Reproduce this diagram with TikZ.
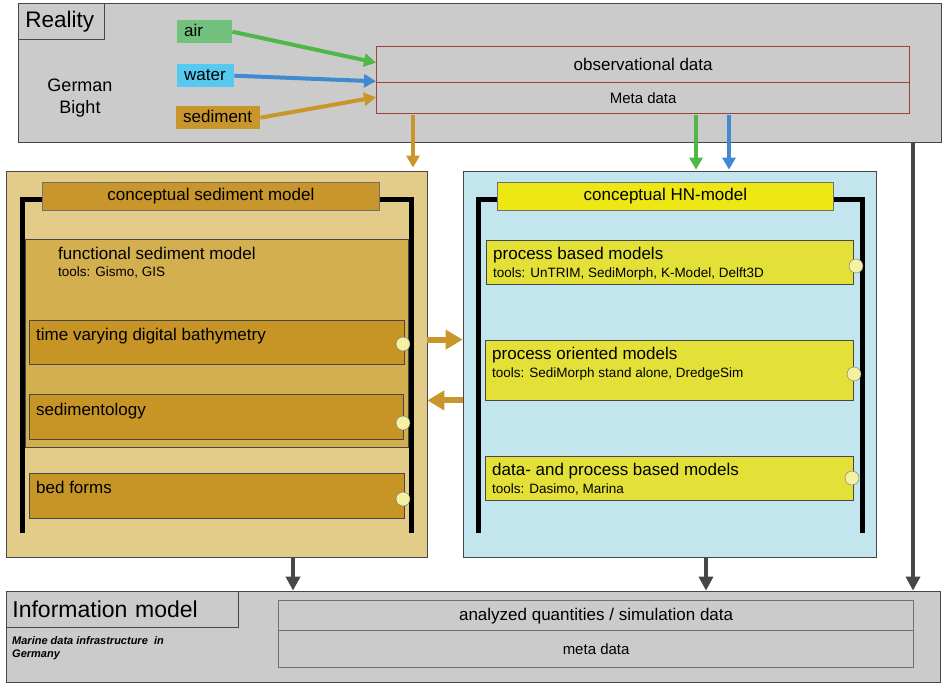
\documentclass[tikz,border=0pt]{standalone}
\usepackage{fontspec}
\setmainfont{Liberation Sans}
\usetikzlibrary{arrows.meta,fit,positioning}

\definecolor{realgray}{HTML}{CBCBCB}
\definecolor{edgegray}{HTML}{474747}
\definecolor{softgray}{HTML}{707070}
\definecolor{obsred}{HTML}{A0403A}
\definecolor{airgreen}{HTML}{72C27D}
\definecolor{arrowgreen}{HTML}{4DB848}
\definecolor{waterblue}{HTML}{55C9EF}
\definecolor{arrowblue}{HTML}{4189D0}
\definecolor{sedgold}{HTML}{C8962A}
\definecolor{sedlight}{HTML}{E3CB89}
\definecolor{sedmid}{HTML}{D4AF4F}
\definecolor{seddark}{HTML}{C69525}
\definecolor{hnblue}{HTML}{C3E6EE}
\definecolor{hnyellow}{HTML}{EDE813}
\definecolor{hnfill}{HTML}{E3E137}
\definecolor{dotyellow}{HTML}{F5F1A3}

\newcommand{\txthuge}{\fontsize{22.5}{26}\selectfont}
\newcommand{\txtbig}{\fontsize{17}{22}\selectfont}
\newcommand{\txtmid}{\fontsize{15}{18}\selectfont}
\newcommand{\txtsmall}{\fontsize{13.5}{16}\selectfont}
\newcommand{\txttiny}{\fontsize{11}{13}\selectfont}

\tikzset{
  box/.style={draw=edgegray, line width=0.8pt, inner sep=0pt},
  bar/.style={anchor=north west, inner sep=0pt, line width=0.8pt},
  tag/.style={anchor=north west, inner xsep=7pt, inner ysep=0pt, minimum height=23pt,
    align=left, font=\txtbig, text height=13pt, text depth=3pt},
  flow/.style={line width=4pt, -{Triangle[length=12pt,width=13pt]}},
  side/.style={line width=6pt, sedgold, -{Triangle[length=17pt,width=19pt]}},
  down/.style={line width=4.5pt, edgegray, -{Triangle[length=14pt,width=14pt]}},
  bracket/.style={line width=5pt, black},
  dot/.style={circle, draw=softgray, fill=dotyellow, minimum size=14pt, inner sep=0pt},
  txt/.style={anchor=base west, inner sep=0pt}
}

\begin{document}
\begin{tikzpicture}[x=1pt,y=-1pt]
\useasboundingbox (0,0) rectangle (944,683);

% Reality
\node[box, fill=realgray, fit={(18,3) (941,142)}] (reality) {};
\node[box, fill=realgray, anchor=north west, minimum width=86pt, minimum height=36pt,
  text width=72pt, inner xsep=7pt, align=left, font=\txthuge] (realitylbl) at (18,3) {Reality};
\node[font=\fontsize{18}{22}\selectfont, align=center] (bight) at (80,98) {German\\Bight};

% Inputs
\node[tag, fill=airgreen, text width=41pt] (air) at (177,20) {air};
\node[tag, fill=waterblue, text width=43pt] (water) at (177,64) {water};
\node[tag, fill=sedgold, text width=70pt] (sediment) at (176,106) {sediment};

% Observations
\node[bar, draw=obsred, line width=1.3pt, fill=realgray, minimum width=533pt, minimum height=36pt,
  font=\txtbig] (obsup) at (376,46) {observational data};
\node[bar, draw=obsred, line width=1.3pt, fill=realgray, minimum width=533pt, minimum height=31pt,
  font=\txtmid] (obsmeta) at (376,82) {Meta data};

\draw[flow, arrowgreen] (air.east) -- ([yshift=2pt]obsup.west);
\draw[flow, arrowblue] (water.east) -- ([yshift=2pt]obsup.south west);
\draw[flow, sedgold] (sediment.east) -- ([yshift=1pt]obsmeta.west);

% Sediment model
\node[box, fill=sedlight, fit={(6,171) (427,557)}] (sedbox) {};
\node[box, fill=sedmid, fit={(25,239) (408,447)}] (func) {};
\node[txt, font=\txtbig] (functxt) at (58,259) {functional sediment model};
\node[txt, font=\txtsmall] (functools) at (58,276) {tools: Gismo, GIS};
\draw[bracket] ([yshift=-3pt]42,196) -| ++(-20,334);
\draw[bracket] ([yshift=-3pt]379,196) -| ++(32,334);
\node[bar, draw=softgray, fill=sedgold, minimum width=337pt, minimum height=28pt,
  font=\txtbig] (sedtitle) at (42,182) {conceptual sediment model};
\node[box, fill=seddark, fit={(29,320) (404,364)}] (bathy) {};
\node[box, fill=seddark, fit={(29,394) (403,439)}] (sedim) {};
\node[box, fill=seddark, fit={(29,473) (404,518)}] (bedf) {};
\node[txt, font=\txtbig] (bathytxt) at (36,340) {time varying digital bathymetry};
\node[txt, font=\txtbig] (sedimtxt) at (36,415) {sedimentology};
\node[txt, font=\txtbig] (bedftxt) at (36,493) {bed forms};
\foreach \n/\y in {a/344, b/423, c/499}
  \node[dot] (seddot\n) at (403,\y) {};

% HN model
\node[box, fill=hnblue, fit={(463,171) (876,557)}] (hnbox) {};
\draw[bracket] ([yshift=-3pt]497,196) -| ++(-19,334);
\draw[bracket] ([yshift=-3pt]833,196) -| ++(29,334);
\node[bar, draw=softgray, fill=hnyellow, minimum width=336pt, minimum height=28pt,
  font=\txtbig] (hntitle) at (497,182) {conceptual HN-model};
\node[box, fill=hnfill, fit={(486,240) (853,284)}] (pbm) {};
\node[box, fill=hnfill, fit={(485,340) (853,400)}] (pom) {};
\node[box, fill=hnfill, fit={(485,456) (853,500)}] (dpbm) {};
\node[txt, font=\txtbig] (pbmtxt) at (493,259) {process based models};
\node[txt, font=\txtsmall] (pbmtools) at (493,277) {tools: UnTRIM, SediMorph, K-Model, Delft3D};
\node[txt, font=\txtbig] (pomtxt) at (492,359) {process oriented models};
\node[txt, font=\txtsmall] (pomtools) at (492,377) {tools: SediMorph stand alone, DredgeSim};
\node[txt, font=\txtbig] (dpbmtxt) at (492,475) {data- and process based models};
\node[txt, font=\txtsmall] (dpbmtools) at (492,493) {tools: Dasimo, Marina};
\foreach \n/\x/\y in {a/856/266, b/854/374, c/852/478}
  \node[dot] (hndot\n) at (\x,\y) {};

% Links between models
\draw[side] (sedbox.east |- pom.north) -- (hnbox.west |- pom.north);
\draw[side] (hnbox.west |- pom.south) -- (sedbox.east |- pom.south);

% Observations into models
\coordinate (golddown) at (413,115);
\coordinate (greendown) at (696,115);
\coordinate (bluedown) at (729,115);
\draw[flow, sedgold, shorten >=3pt] (golddown) -- (golddown |- sedbox.north);
\draw[flow, arrowgreen, shorten >=1pt] (greendown) -- (greendown |- hnbox.north);
\draw[flow, arrowblue, shorten >=1pt] (bluedown) -- (bluedown |- hnbox.north);

% Information model
\node[box, fill=realgray, fit={(6,591) (940,682)}] (info) {};
\node[box, fill=realgray, anchor=north west, minimum width=232pt, minimum height=36pt,
  text width=220pt, inner xsep=6pt, align=left, font=\fontsize{23}{26}\selectfont] (infolbl) at (6,591) {Information model};
\node[anchor=north west, inner sep=0pt, align=left, font=\txttiny\bfseries\itshape] (marine) at (12,636)
  {Marine data infrastructure \ in\\Germany};
\node[bar, draw=softgray, line width=1.2pt, fill=realgray, minimum width=635pt, minimum height=30pt,
  font=\txtbig] (simdata) at (278,600) {analyzed quantities / simulation data};
\node[bar, draw=softgray, line width=1.2pt, fill=realgray, minimum width=635pt, minimum height=37pt,
  font=\txtmid] (metadata) at (278,630) {meta data};

% Into information model
\coordinate (sedout) at (293,557);
\coordinate (hnout) at (706,557);
\coordinate (realout) at (913,142);
\draw[down] (sedout) -- (sedout |- info.north);
\draw[down] (hnout) -- (hnout |- info.north);
\draw[down] (realout) -- (realout |- info.north);
\end{tikzpicture}
\end{document}
